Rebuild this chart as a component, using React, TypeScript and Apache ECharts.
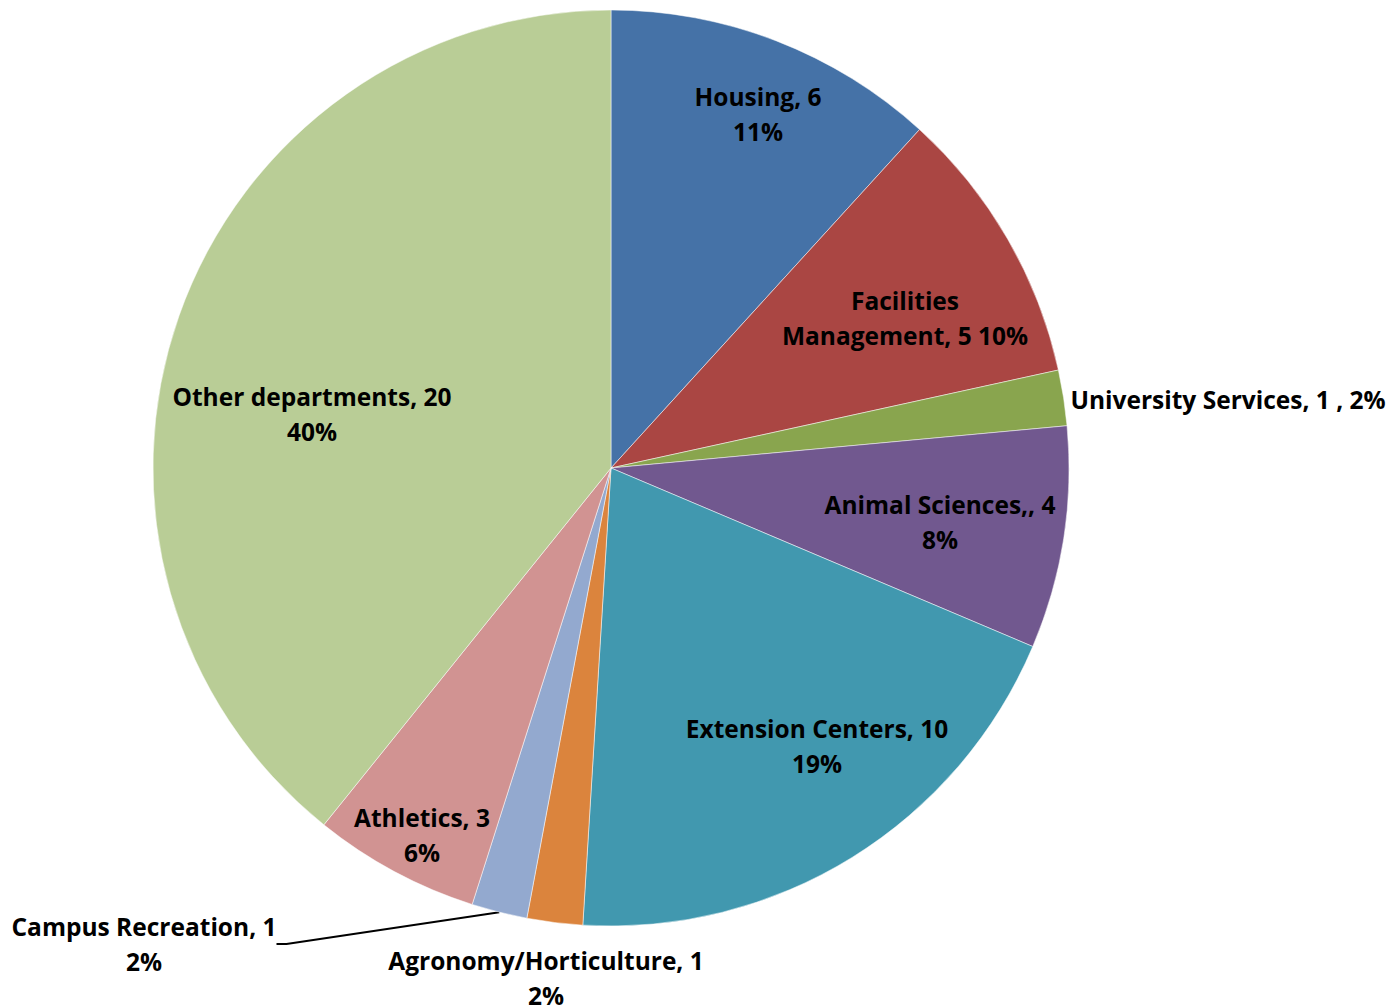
import React, { useEffect, useRef } from "react";
import * as echarts from "echarts";

const categories = [
  "Housing",
  "Facilities Management",
  "University Services",
  "Animal Sciences",
  "Extension Centers",
  "Agronomy/Horticulture",
  "Campus Recreation",
  "Athletics",
  "Other departments",
];
const values = [6, 5, 1, 4, 10, 1, 1, 3, 20];
const labelTexts = [
  "Housing, 6\n11%",
  "Facilities\nManagement, 5 10%",
  "University Services, 1 , 2%",
  "Animal Sciences,, 4\n8%",
  "Extension Centers, 10\n19%",
  "Agronomy/Horticulture, 1\n2%",
  "Campus Recreation, 1\n2%",
  "Athletics, 3\n6%",
  "Other departments, 20\n40%",
];
const colors = ["#4572A7", "#AA4643", "#89A54E", "#71588F", "#4198AF", "#DB843D", "#93A9CF", "#D19392", "#B9CD96"];

// label anchor positions (label layout, px)
const labelPos: [number, number][] = [
  [758, 114],
  [905, 318],
  [1228, 399],
  [940, 522],
  [817, 746],
  [546, 978],
  [144, 944],
  [422, 835],
  [312, 414],
];
const withLeader = [false, false, false, false, false, false, true, false, false];

export default function App() {
  const ref = useRef<HTMLDivElement>(null);
  useEffect(() => {
    if (!ref.current) return;
    const chart = echarts.init(ref.current, undefined, { renderer: "svg" });
    chart.setOption({
      animation: false,
      backgroundColor: "#ffffff",
      series: [
        {
          type: "pie",
          center: [611, 468],
          radius: 458,
          startAngle: 90,
          clockwise: true,
          avoidLabelOverlap: false,
          itemStyle: { borderColor: "#ffffff", borderWidth: 0.5 },
          label: {
            show: true,
            position: "inside",
            fontFamily: "'Open Sans', 'Noto Sans', sans-serif",
            fontWeight: "bold",
            fontSize: 24.5,
            lineHeight: 35,
            color: "#000000",
            align: "center",
          },
          labelLine: { show: false },
          labelLayout: (params: any) => ({
            x: labelPos[params.dataIndex][0],
            y: labelPos[params.dataIndex][1],
            align: "center",
            verticalAlign: "middle",
          }),
          data: categories.map((c, i) => ({
            name: c,
            value: values[i],
            itemStyle: { color: colors[i] },
            label: {
              formatter: labelTexts[i],
              position: withLeader[i] ? "outside" : "inside",
            },
            labelLine: withLeader[i]
              ? { show: true, length: 10, length2: 10, lineStyle: { color: "#000", width: 2 } }
              : { show: false },
          })),
        },
      ],
    });
    return () => chart.dispose();
  }, []);
  return (
    <div
      ref={ref}
      style={{ position: "fixed", left: 0, top: 0, width: 1393, height: 1008 }}
    />
  );
}
